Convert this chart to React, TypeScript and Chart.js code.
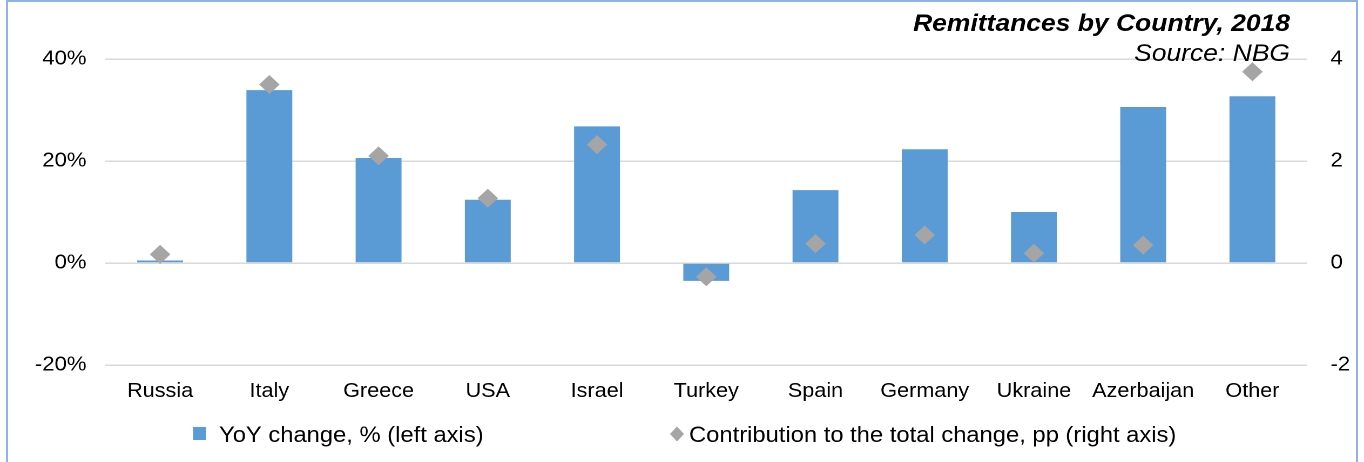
import { useEffect, useRef } from "react";
import { Chart, registerables } from "chart.js";

Chart.register(...registerables);

// ---- data ----
const countries = [
  "Russia", "Italy", "Greece", "USA", "Israel", "Turkey",
  "Spain", "Germany", "Ukraine", "Azerbaijan", "Other",
];
// YoY change, % (left axis)
const yoyChange = [0.5, 33.9, 20.6, 12.4, 26.8, -3.5, 14.3, 22.3, 10.0, 30.6, 32.7];
// Contribution to the total change, pp (right axis)
const contribution = [0.17, 3.5, 2.1, 1.27, 2.32, -0.27, 0.38, 0.55, 0.19, 0.35, 3.75];
const leftAxisTicks = [-20, 0, 20, 40];
const rightAxisTicks = [-2, 0, 2, 4];
const seriesNames = [
  "YoY change, % (left axis)",
  "Contribution to the total change, pp (right axis)",
];
const titleText = "Remittances by Country, 2018";
const sourceText = "Source: NBG";

// ---- look ----
const PAGE_W = 1364;
const PAGE_H = 462;
const CANVAS_W = 1263;
const SX = PAGE_W / CANVAS_W; // horizontal widening of the drawing
const FONT = "'Liberation Sans', Arial, Helvetica, sans-serif";
const BAR_COLOR = "#5B9BD5";
const DIAMOND_COLOR = "#A5A5A5";
const GRID_COLOR = "#D9D9D9";
const TEXT_COLOR = "#000000";

// page-space layout converted to canvas space
const px = (x: number) => x / SX;
const PLOT_LEFT = px(105.5);
const PLOT_RIGHT = px(1307);

const titleAndLegend = {
  id: "titleAndLegend",
  afterDraw(chart: Chart) {
    const ctx = chart.ctx;
    ctx.save();
    ctx.fillStyle = TEXT_COLOR;
    ctx.textAlign = "right";
    ctx.textBaseline = "alphabetic";
    ctx.font = `italic bold 24.5px ${FONT}`;
    ctx.fillText(titleText, px(1290), 31);
    ctx.font = `italic 24.5px ${FONT}`;
    ctx.fillText(sourceText, px(1290), 61);

    // legend
    const ds = chart.data.datasets;
    ctx.textAlign = "left";
    ctx.font = `22px ${FONT}`;
    // bar item
    ctx.fillStyle = ds[0].backgroundColor as string;
    ctx.fillRect(px(193), 427, px(13), 13);
    ctx.fillStyle = TEXT_COLOR;
    ctx.fillText(ds[0].label as string, px(219), 442);
    // diamond item
    const cx = px(677);
    const cy = 434;
    ctx.fillStyle = ds[1].backgroundColor as string;
    ctx.beginPath();
    ctx.moveTo(cx, cy - 7.5);
    ctx.lineTo(cx + px(7), cy);
    ctx.lineTo(cx, cy + 7.5);
    ctx.lineTo(cx - px(7), cy);
    ctx.closePath();
    ctx.fill();
    ctx.fillStyle = TEXT_COLOR;
    ctx.fillText(ds[1].label as string, px(689), 442);
    ctx.restore();
  },
};

export default function App() {
  const canvasRef = useRef<HTMLCanvasElement | null>(null);

  useEffect(() => {
    const canvas = canvasRef.current;
    if (!canvas) return;
    const chart = new Chart(canvas, {
      type: "bar",
      data: {
        labels: countries,
        datasets: [
          {
            type: "bar",
            label: seriesNames[0],
            data: yoyChange,
            backgroundColor: BAR_COLOR,
            borderWidth: 0,
            barPercentage: 0.42,
            categoryPercentage: 1,
            yAxisID: "yLeft",
            order: 2,
          },
          {
            type: "line",
            label: seriesNames[1],
            data: contribution,
            showLine: false,
            pointStyle: "rectRot",
            pointRadius: 9.5,
            pointHoverRadius: 9.5,
            backgroundColor: DIAMOND_COLOR,
            borderColor: DIAMOND_COLOR,
            borderWidth: 0,
            yAxisID: "yRight",
            order: 1,
          },
        ],
      },
      plugins: [titleAndLegend],
      options: {
        responsive: false,
        animation: false,
        devicePixelRatio: 2,
        layout: { padding: { top: 59, bottom: 57, left: 0, right: 0 } },
        plugins: {
          legend: { display: false },
          title: { display: false },
          tooltip: { enabled: false },
        },
        scales: {
          x: {
            grid: { display: false, drawTicks: false },
            border: { display: false },
            ticks: {
              color: TEXT_COLOR,
              font: { family: FONT, size: 20 },
              padding: 14.5,
              maxRotation: 0,
              autoSkip: false,
            },
            afterFit(scale: any) {
              scale.height = 40;
            },
          },
          yLeft: {
            position: "left",
            min: leftAxisTicks[0],
            max: leftAxisTicks[leftAxisTicks.length - 1],
            afterBuildTicks(scale: any) {
              scale.ticks = leftAxisTicks.map((v) => ({ value: v }));
            },
            grid: { color: GRID_COLOR, lineWidth: 1.5, drawTicks: false },
            border: { display: false },
            ticks: {
              color: TEXT_COLOR,
              font: { family: FONT, size: 20.5 },
              padding: px(19),
              callback: (v: any) => `${v}%`,
            },
            afterFit(scale: any) {
              scale.width = PLOT_LEFT;
            },
          },
          yRight: {
            position: "right",
            min: rightAxisTicks[0],
            max: rightAxisTicks[rightAxisTicks.length - 1],
            afterBuildTicks(scale: any) {
              scale.ticks = rightAxisTicks.map((v) => ({ value: v }));
            },
            grid: { drawOnChartArea: false, drawTicks: false },
            border: { display: false },
            ticks: {
              color: TEXT_COLOR,
              font: { family: FONT, size: 20.5 },
              padding: px(23.5),
            },
            afterFit(scale: any) {
              scale.width = CANVAS_W - PLOT_RIGHT;
            },
          },
        },
      },
    });
    return () => chart.destroy();
  }, []);

  return (
    <div
      style={{
        position: "fixed",
        left: 0,
        top: 0,
        width: PAGE_W,
        height: PAGE_H,
        overflow: "hidden",
        background: "#ffffff",
      }}
    >
      <div
        style={{
          position: "absolute",
          left: 6,
          top: 0,
          width: 1352,
          height: 520,
          border: "2px solid #8DB4E2",
          boxSizing: "border-box",
        }}
      />
      <div
        style={{
          position: "absolute",
          left: 0,
          top: 0,
          width: CANVAS_W,
          height: PAGE_H,
          transform: `scaleX(${SX})`,
          transformOrigin: "0 0",
        }}
      >
        <canvas ref={canvasRef} width={CANVAS_W} height={PAGE_H} />
      </div>
    </div>
  );
}
